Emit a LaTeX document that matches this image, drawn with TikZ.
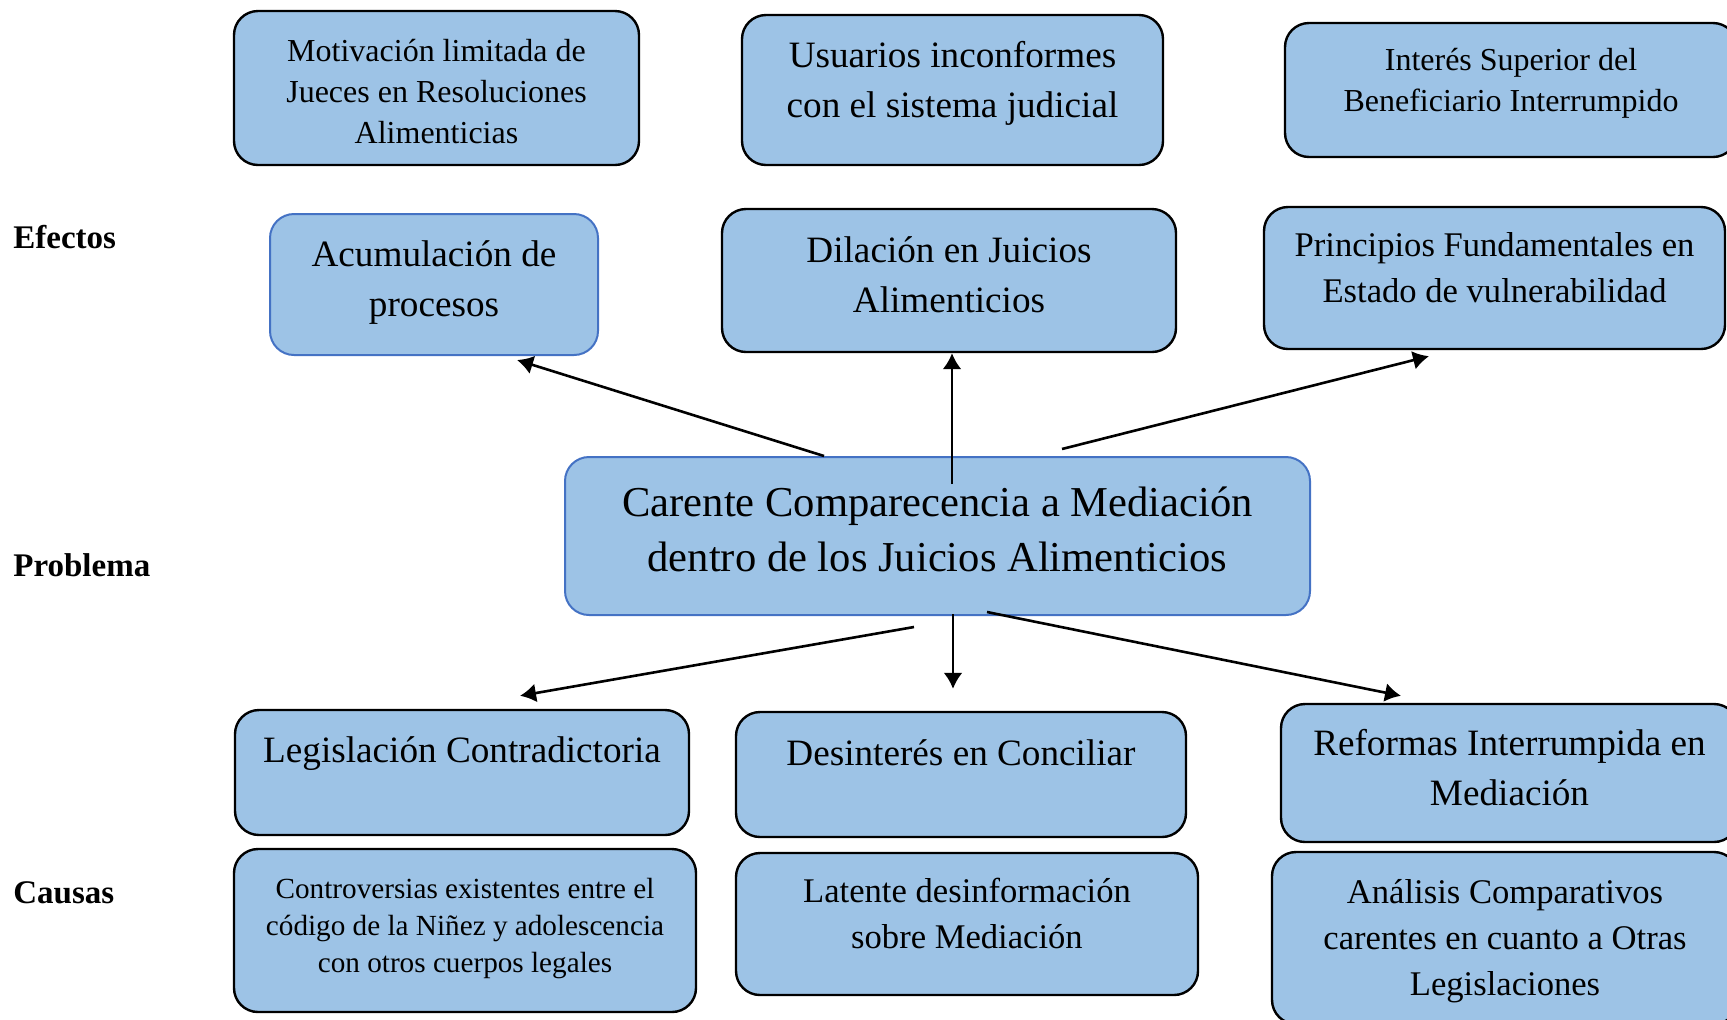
\documentclass[tikz,border=0pt]{standalone}
\usepackage{fontspec}
\setmainfont{Liberation Serif}
\usetikzlibrary{arrows.meta,calc}
\definecolor{boxfill}{RGB}{157,195,230}
\definecolor{boxedge}{RGB}{68,114,196}

\tikzset{
	box/.style={draw=black, line width=1.2pt, fill=boxfill, rounded corners=12pt, inner sep=0pt},
	bluebox/.style={box, draw=boxedge, line width=1pt},
	txtXL/.style={align=center, inner sep=0pt, font=\fontsize{21.3pt}{27.5pt}\selectfont},
	txtL/.style={align=center, inner sep=0pt, font=\fontsize{18.6pt}{25pt}\selectfont},
	txtM/.style={align=center, inner sep=0pt, font=\fontsize{17.3pt}{23pt}\selectfont},
	txtS/.style={align=center, inner sep=0pt, font=\fontsize{16pt}{20.5pt}\selectfont},
	txtXS/.style={align=center, inner sep=0pt, font=\fontsize{14.6pt}{18.5pt}\selectfont},
	side/.style={anchor=base west, inner sep=0pt, font=\bfseries\fontsize{16.5pt}{20pt}\selectfont},
	conn/.style={->, line width=1.3pt},
}

\begin{document}
\begin{tikzpicture}[x=0.5pt, y=-0.5pt, >={Latex[length=8pt, width=9.5pt]}]
	\useasboundingbox (0,0) rectangle (1727,1019);

	% row labels
	\node[side] (efectos) at (13,248) {Efectos};
	\node[side] (problema) at (13,576) {Problema};
	\node[side] (causas) at (13,903) {Causas};

	% effects, upper row
	\node[box, minimum width=202.5pt, minimum height=77pt] (mot) at (436.5,88) {};
	\node[txtS] (mottxt) at ($(mot)+(0,4)$) {Motivación limitada de\\Jueces en Resoluciones\\Alimenticias};
	\node[box, minimum width=210.5pt, minimum height=75pt] (usu) at (952.5,90) {};
	\node[txtL] (usutxt) at ($(usu)+(0,-7)$) {Usuarios inconformes\\con el sistema judicial};
	\node[box, minimum width=226pt, minimum height=67pt] (int) at (1511,90) {};
	\node[txtS] (inttxt) at ($(int)+(0,-7)$) {Interés Superior del\\Beneficiario Interrumpido};

	% effects, lower row
	\node[bluebox, minimum width=164pt, minimum height=70.5pt] (acu) at (434,284.5) {};
	\node[txtL] (acutxt) at ($(acu)+(0,-2)$) {Acumulación de\\procesos};
	\node[box, minimum width=227pt, minimum height=71.5pt] (dil) at (949,280.5) {};
	\node[txtL] (diltxt) at ($(dil)+(0,-6)$) {Dilación en Juicios\\Alimenticios};
	\node[box, minimum width=230.5pt, minimum height=71pt] (pri) at (1494.5,278) {};
	\node[txtM] (pritxt) at ($(pri)+(0,-10)$) {Principios Fundamentales en\\Estado de vulnerabilidad};

	% problem
	\node[bluebox, minimum width=372.5pt, minimum height=79pt] (car) at (937.5,536) {};
	\node[txtXL] (cartxt) at ($(car)+(0,-7)$) {Carente Comparecencia a Mediación\\dentro de los Juicios Alimenticios};

	% causes, upper row
	\node[box, minimum width=227pt, minimum height=62.5pt] (leg) at (462,772.5) {};
	\node[txtL] (legtxt) at ($(leg)+(0,-19)$) {Legislación Contradictoria};
	\node[box, minimum width=225pt, minimum height=62.5pt] (des) at (961,774.5) {};
	\node[txtL] (destxt) at ($(des)+(0,-22)$) {Desinterés en Conciliar};
	\node[box, minimum width=228.5pt, minimum height=69pt] (ref) at (1509.5,773) {};
	\node[txtL] (reftxt) at ($(ref)+(0,-5)$) {Reformas Interrumpida en\\Mediación};

	% causes, lower row
	\node[box, minimum width=231pt, minimum height=81.5pt] (con) at (465,930.5) {};
	\node[txtXS] (contxt) at ($(con)+(0,-2)$) {Controversias existentes entre el\\código de la Niñez y adolescencia\\con otros cuerpos legales};
	\node[box, minimum width=231pt, minimum height=71pt] (lat) at (967,924) {};
	\node[txtM] (lattxt) at ($(lat)+(0,-11)$) {Latente desinformación\\sobre Mediación};
	\node[box, minimum width=233pt, minimum height=86pt] (ana) at (1505,938) {};
	\node[txtM] (anatxt) at ($(ana)+(0,3)$) {Análisis Comparativos\\carentes en cuanto a Otras\\Legislaciones};

	% arrows to the effects
	\draw[conn] ($(car.north)+(-113.5,0)$) -- ($(acu.south)+(83,4)$);
	\draw[conn] ($(car.north)+(14.5,28)$) -- ($(dil.south)+(3,0)$);
	\draw[conn] ($(car.north)+(124.5,-7)$) -- ($(pri.south)+(-65.5,6)$);

	% arrows to the causes
	\draw[conn] ($(car.south)+(-23.5,11)$) -- ($(leg.north)+(58,-13)$);
	\draw[conn] ($(car.south)+(15.5,-2)$) -- ($(des.north)+(-8,-22)$);
	\draw[conn] ($(car.south)+(49.5,-4)$) -- ($(ref.north)+(-108.5,-7)$);
\end{tikzpicture}
\end{document}
